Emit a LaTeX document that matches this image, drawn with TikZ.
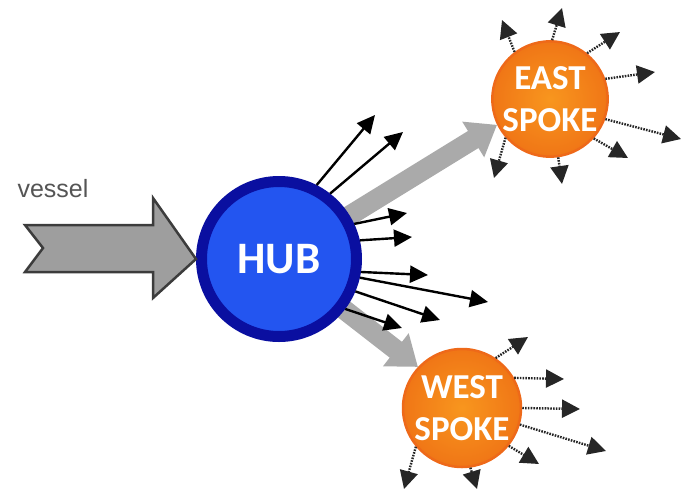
\documentclass[tikz,border=0pt]{standalone}
\usepackage{fontspec}
\setmainfont{Carlito}
\newfontfamily\vesselfont{Liberation Sans}
\usetikzlibrary{arrows.meta,backgrounds}
\definecolor{hubfill}{RGB}{35,85,240}
\definecolor{hubline}{RGB}{10,15,160}
\definecolor{spokefill}{RGB}{248,150,30}
\definecolor{spokeouter}{RGB}{240,118,22}
\definecolor{spokeline}{RGB}{238,105,25}
\definecolor{flowgray}{RGB}{170,170,170}
\definecolor{vesselgray}{RGB}{158,158,158}
\definecolor{vesselline}{RGB}{60,60,60}
\definecolor{labelgray}{RGB}{85,85,85}
\tikzset{
  hubnode/.style={circle, fill=hubfill, draw=hubline, line width=11pt, minimum size=155pt, inner sep=0pt,
    text=white, font=\bfseries\fontsize{45}{45}\selectfont},
  spokenode/.style={circle, inner color=spokefill, outer color=spokeouter, draw=spokeline, line width=2.5pt, inner sep=0pt,
    text=white, align=center, font=\bfseries\fontsize{35}{42}\selectfont},
  hubarrow/.style={-{Triangle[length=18pt,width=17pt]}, line width=2.4pt, black},
  spokearrow/.style={-{Triangle[length=18pt,width=18pt]}, line width=2.4pt, dash pattern=on 1.6pt off 1.2pt, black!85},
  grayarrow/.style={draw=flowgray, line width=20pt, -{Triangle[length=28pt,width=40pt]}},
  vesselshape/.style={fill=vesselgray, draw=vesselline, line width=2.5pt, line join=miter},
}
\begin{document}
\begin{tikzpicture}[x=1pt,y=-1pt]
\useasboundingbox (0,0) rectangle (683,491);

% nodes
\node[hubnode] (hub) at (279,259) {HUB};
\node[spokenode, minimum size=114pt] (east) at (550,99) {EAST\\SPOKE};
\node[spokenode, minimum size=118pt] (west) at (462,408) {WEST\\SPOKE};
\node[font=\vesselfont\fontsize{25}{25}\selectfont, text=labelgray, anchor=base west] (vlabel) at (14,197) {vessel};

% big grey flows behind the circles
\begin{scope}[on background layer]
  \draw[grayarrow] (hub.center) -- (east.206);
  \draw[grayarrow] (hub.center) -- (west.137);
\end{scope}

% vessel arrow into hub
\coordinate (vtip) at (hub.west);
\draw[vesselshape] (25,225) -- (153,225) -- (153,198) -- (vtip) -- (153,298) -- (153,272) -- (25,272) -- (43,248) -- cycle;

% hub outgoing arrows
\coordinate (h1) at (375,115);
\coordinate (h2) at (403,132);
\coordinate (h3) at (407,213);
\coordinate (h4) at (412,237);
\coordinate (h5) at (428,275);
\coordinate (h6) at (488,302);
\coordinate (h7) at (440,320);
\coordinate (h8) at (402,328);
\draw[hubarrow] (hub.63) -- (h1);
\draw[hubarrow] (hub.52) -- (h2);
\draw[hubarrow] (hub.25) -- (h3);
\draw[hubarrow] (hub.13) -- (h4);
\draw[hubarrow] (hub.-9) -- (h5);
\draw[hubarrow] (hub.-13) -- (h6);
\draw[hubarrow] (hub.-23) -- (h7);
\draw[hubarrow] (hub.-37) -- (h8);

% east spoke arrows
\coordinate (e1) at (502,20);
\coordinate (e2) at (562,8);
\coordinate (e3) at (620,32);
\coordinate (e4) at (655,72);
\coordinate (e5) at (681,139);
\coordinate (e6) at (628,158);
\coordinate (e7) at (562,184);
\coordinate (e8) at (494,178);
\draw[spokearrow] (east.127) -- (e1);
\draw[spokearrow] (east.88) -- (e2);
\draw[spokearrow] (east.51) -- (e3);
\draw[spokearrow] (east.20) -- (e4);
\draw[spokearrow] (east.-20) -- (e5);
\draw[spokearrow] (east.-42) -- (e6);
\draw[spokearrow] (east.-82) -- (e7);
\draw[spokearrow] (east.-139) -- (e8);

% west spoke arrows
\coordinate (w1) at (528,337);
\coordinate (w2) at (564,379);
\coordinate (w3) at (580,409);
\coordinate (w4) at (606,451);
\coordinate (w5) at (539,464);
\coordinate (w6) at (477,489);
\coordinate (w7) at (404,489);
\draw[spokearrow] (west.56) -- (w1);
\draw[spokearrow] (west.30) -- (w2);
\draw[spokearrow] (west.0) -- (w3);
\draw[spokearrow] (west.-16) -- (w4);
\draw[spokearrow] (west.-39) -- (w5);
\draw[spokearrow] (west.-82) -- (w6);
\draw[spokearrow] (west.-140) -- (w7);
\end{tikzpicture}
\end{document}
